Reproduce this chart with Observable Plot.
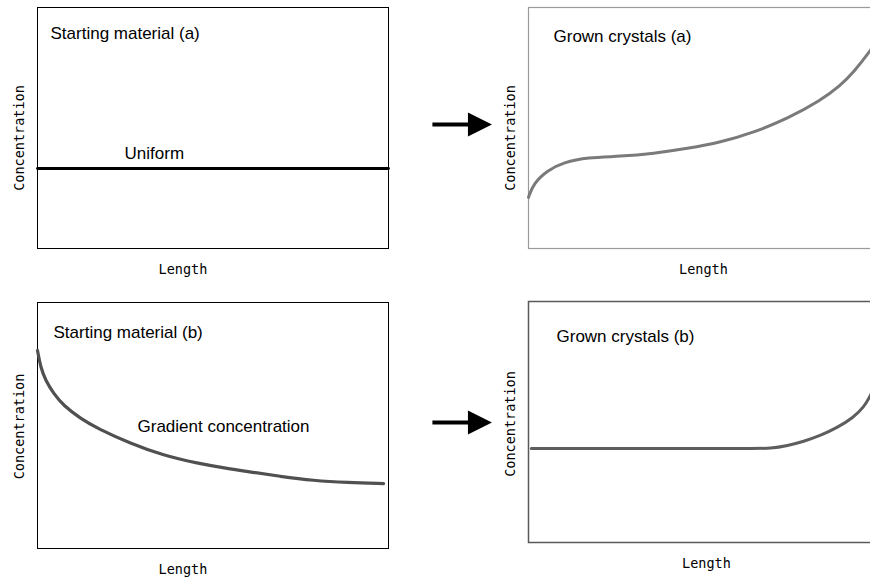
<!DOCTYPE html>
<html><head><meta charset="utf-8">
<script src="https://cdn.jsdelivr.net/npm/d3@7"></script>
<script src="https://cdn.jsdelivr.net/npm/@observablehq/plot@0.6"></script>
<style>
html,body{margin:0;padding:0;background:#fff;}
#root{position:relative;width:870px;height:579px;overflow:hidden;background:#fff;}
#root > svg{position:absolute;}
</style></head><body><div id="root"></div>
<script>
// ---- data ----
const titles = ["Starting material (a)", "Grown crystals (a)", "Starting material (b)", "Grown crystals (b)"];
const xLabel = "Length";
const yLabel = "Concentration";
const notes = ["Uniform", "Gradient concentration"];
const noteX = [0.248, 0.285];
const noteY = [0.373, 0.472];

const uniformX = [0, 1];
const uniformY = [0.332, 0.332];

const grownAX = [0, 0.014, 0.054, 0.099, 0.168, 0.261, 0.355, 0.452, 0.545, 0.639, 0.736, 0.830, 0.886, 0.923, 0.972, 1.0];
const grownAY = [0.212, 0.270, 0.324, 0.357, 0.378, 0.382, 0.394, 0.415, 0.440, 0.481, 0.539, 0.614, 0.676, 0.730, 0.822, 0.885];

const gradientX = [0, 0.009, 0.023, 0.046, 0.074, 0.123, 0.171, 0.265, 0.359, 0.456, 0.541, 0.598, 0.692, 0.786, 0.883, 0.986];
const gradientY = [0.805, 0.736, 0.683, 0.630, 0.581, 0.528, 0.488, 0.427, 0.378, 0.346, 0.325, 0.313, 0.293, 0.276, 0.268, 0.264];

const grownBX = [0.008, 0.30, 0.545, 0.639, 0.688, 0.736, 0.781, 0.830, 0.878, 0.923, 0.952, 0.972, 1.0];
const grownBY = [0.390, 0.390, 0.390, 0.390, 0.390, 0.402, 0.419, 0.444, 0.477, 0.519, 0.560, 0.610, 0.700];

// arrows between panels (in the right panel's data units)
const arrowX1 = -0.273, arrowX2 = -0.15, arrowHeadX = -0.138;
const arrowYTop = 0.515, arrowYBottom = 0.498;

// ---- helpers ----
const mono = "'DejaVu Sans Mono', monospace";
const sans = "'Liberation Sans', Arial, Helvetica, sans-serif";
const zip = (xs, ys) => xs.map((x, i) => ({x, y: ys[i]}));
const rightTriangle = {
  draw(ctx, size) {
    const s = Math.sqrt(size / Math.PI);
    ctx.moveTo(s, 0);
    ctx.lineTo(-s, -s);
    ctx.lineTo(-s, s);
    ctx.closePath();
  }
};
function arrowMarks(y) {
  return [
    Plot.link([{x1: arrowX1, x2: arrowX2, y}], {x1: "x1", x2: "x2", y1: "y", y2: "y", stroke: "black", strokeWidth: 4}),
    Plot.dot([{x: arrowHeadX, y}], {x: "x", y: "y", r: 12, symbol: rightTriangle, fill: "black", stroke: "none"})
  ];
}

function panel(o) {
  const svg = Plot.plot({
    width: o.width, height: o.height,
    marginTop: o.mt, marginBottom: o.mb, marginLeft: o.ml, marginRight: o.mr,
    x: {axis: null, domain: [0, 1]},
    y: {axis: null, domain: [0, 1]},
    style: {fontFamily: sans, fontSize: "17px", background: "transparent", color: "black"},
    marks: [
      Plot.frame({stroke: o.frameStroke, strokeWidth: o.frameWidth}),
      ...o.marks,
      Plot.text([o.title], {text: d => d, frameAnchor: "top-left", dx: o.titleDx, dy: o.titleDy, textAnchor: "start", lineAnchor: "bottom", fill: "black"}),
      Plot.text([xLabel], {text: d => d, frameAnchor: "bottom", dx: o.lenDx, dy: 25, textAnchor: "middle", lineAnchor: "bottom", fontFamily: mono, fontSize: 13.5, fill: "black"}),
      Plot.text([yLabel], {text: d => d, frameAnchor: "left", rotate: -90, dx: -14, dy: o.conDy, textAnchor: "middle", lineAnchor: "bottom", fontFamily: mono, fontSize: 13.5, fill: "black"})
    ]
  });
  svg.style.left = o.left + "px";
  svg.style.top = o.top + "px";
  svg.style.maxWidth = "none";
  document.getElementById("root").appendChild(svg);
}

// Top-left: starting material (a)
panel({
  left: 0, top: 0, width: 420, height: 290, mt: 7, mb: 42, ml: 37, mr: 32,
  title: titles[0], titleDx: 13, titleDy: 31, lenDx: -30, conDy: 10,
  frameStroke: "black", frameWidth: 1,
  marks: [
    Plot.line(zip(uniformX, uniformY), {x: "x", y: "y", stroke: "black", strokeWidth: 2.8}),
    Plot.text([notes[0]], {text: d => d, x: noteX[0], y: noteY[0], textAnchor: "start", lineAnchor: "bottom", fill: "black"})
  ]
});

// Top-right: grown crystals (a)
panel({
  left: 420, top: 0, width: 460, height: 290, mt: 7, mb: 42, ml: 108, mr: 0,
  title: titles[1], titleDx: 25, titleDy: 34, lenDx: -1, conDy: 10,
  frameStroke: "#9a9a9a", frameWidth: 1.2,
  marks: [
    Plot.line(zip(grownAX, grownAY), {x: "x", y: "y", curve: "basis", stroke: "#7a7a7a", strokeWidth: 3}),
    ...arrowMarks(arrowYTop)
  ]
});

// Bottom-left: starting material (b)
panel({
  left: 0, top: 290, width: 420, height: 289, mt: 12, mb: 31, ml: 37, mr: 32,
  title: titles[2], titleDx: 16, titleDy: 35, lenDx: -30, conDy: 1,
  frameStroke: "black", frameWidth: 1,
  marks: [
    Plot.line(zip(gradientX, gradientY), {x: "x", y: "y", curve: "basis", stroke: "#505050", strokeWidth: 3.2}),
    Plot.text([notes[1]], {text: d => d, x: noteX[1], y: noteY[1], textAnchor: "start", lineAnchor: "bottom", fill: "black"})
  ]
});

// Bottom-right: grown crystals (b)
panel({
  left: 420, top: 290, width: 460, height: 289, mt: 11, mb: 37, ml: 108, mr: 0,
  title: titles[3], titleDx: 28, titleDy: 40, lenDx: 2, conDy: 2,
  frameStroke: "#5a5a5a", frameWidth: 1.5,
  marks: [
    Plot.line(zip(grownBX, grownBY), {x: "x", y: "y", curve: "basis", stroke: "#5e5e5e", strokeWidth: 3}),
    ...arrowMarks(arrowYBottom)
  ]
});
</script>
</body></html>
